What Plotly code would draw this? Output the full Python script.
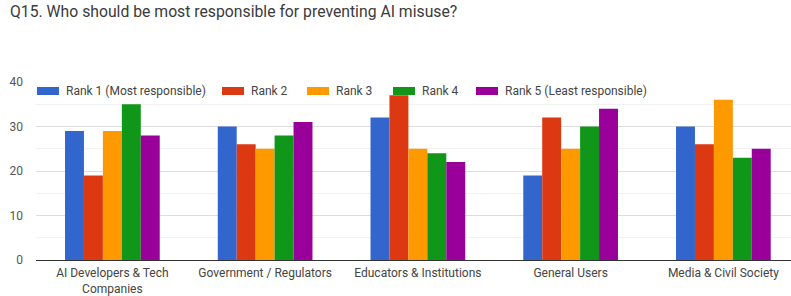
import plotly.graph_objects as go

categories = ["AI Developers & Tech<br>Companies", "Government / Regulators",
              "Educators & Institutions", "General Users", "Media & Civil Society"]
series_names = ["Rank 1 (Most responsible)", "Rank 2", "Rank 3", "Rank 4", "Rank 5 (Least responsible)"]
rank1 = [29, 30, 32, 19, 30]
rank2 = [19, 26, 37, 32, 26]
rank3 = [29, 25, 25, 25, 36]
rank4 = [35, 28, 24, 30, 23]
rank5 = [28, 31, 22, 34, 25]
colors = ["#3366CC", "#DC3912", "#FF9900", "#109618", "#990099"]
y_ticks = [0, 10, 20, 30, 40]

# layout (pixels)
W, H = 791, 296
ml, mr, mt, mb = 36, 0, 82, 36
pw, ph = W - ml - mr, H - mt - mb
cat_px = 152.75
x_end = -0.5 + pw / cat_px
legend_item_x = [37, 222, 307, 393, 476]   # swatch left edges, px
swatch_w, swatch_h, legend_cy, text_dx = 22, 8, 91, 27


def px_x(px):
    return (px - ml) / pw


def px_y(py):
    return (H - mb - py) / ph


fig = go.Figure()
for name, vals, col in zip(series_names, [rank1, rank2, rank3, rank4, rank5], colors):
    fig.add_trace(go.Bar(name=name, x=categories, y=vals, marker_color=col,
                         marker_line_width=0, showlegend=False))

shapes, annotations = [], []
for name, col, lx in zip(series_names, colors, legend_item_x):
    shapes.append(dict(type="rect", xref="paper", yref="paper",
                       x0=px_x(lx), x1=px_x(lx + swatch_w),
                       y0=px_y(legend_cy + swatch_h / 2), y1=px_y(legend_cy - swatch_h / 2),
                       fillcolor=col, line_width=0, layer="above"))
    annotations.append(dict(text=name, xref="paper", yref="paper", x=px_x(lx + text_dx),
                            y=px_y(legend_cy), xanchor="left", yanchor="middle",
                            showarrow=False, font=dict(size=12, color="#444444")))

fig.update_layout(
    width=W, height=H,
    margin=dict(l=ml, r=mr, t=mt, b=mb),
    paper_bgcolor="white", plot_bgcolor="white",
    font=dict(family="Roboto, Arial, sans-serif", size=12, color="#444444"),
    title=dict(text="Q15. Who should be most responsible for preventing AI misuse?",
               x=0, xref="container", xanchor="left", y=1, yref="container", yanchor="top",
               pad=dict(t=6, l=10), font=dict(size=15.75, color="#3a3a3a")),
    barmode="group", bargap=0.38, bargroupgap=0,
    showlegend=False,
    shapes=shapes, annotations=annotations,
    xaxis=dict(range=[-0.5, x_end], showgrid=False, showline=False, ticks="",
               ticklabelstandoff=4,
               tickfont=dict(size=12, color="#444444"), fixedrange=True),
    yaxis=dict(range=[0, 40], tickvals=y_ticks, showgrid=True, gridcolor="#DDDDDD",
               gridwidth=1, zeroline=True, zerolinecolor="#333333", zerolinewidth=1,
               ticklabelstandoff=12, tickfont=dict(size=12, color="#555555"),
               minor=dict(dtick=5, showgrid=True, gridcolor="#F2F2F2", gridwidth=1)),
)

fig.write_html("out.html", config={"displayModeBar": False},
               post_script="document.body.style.margin='0';")
